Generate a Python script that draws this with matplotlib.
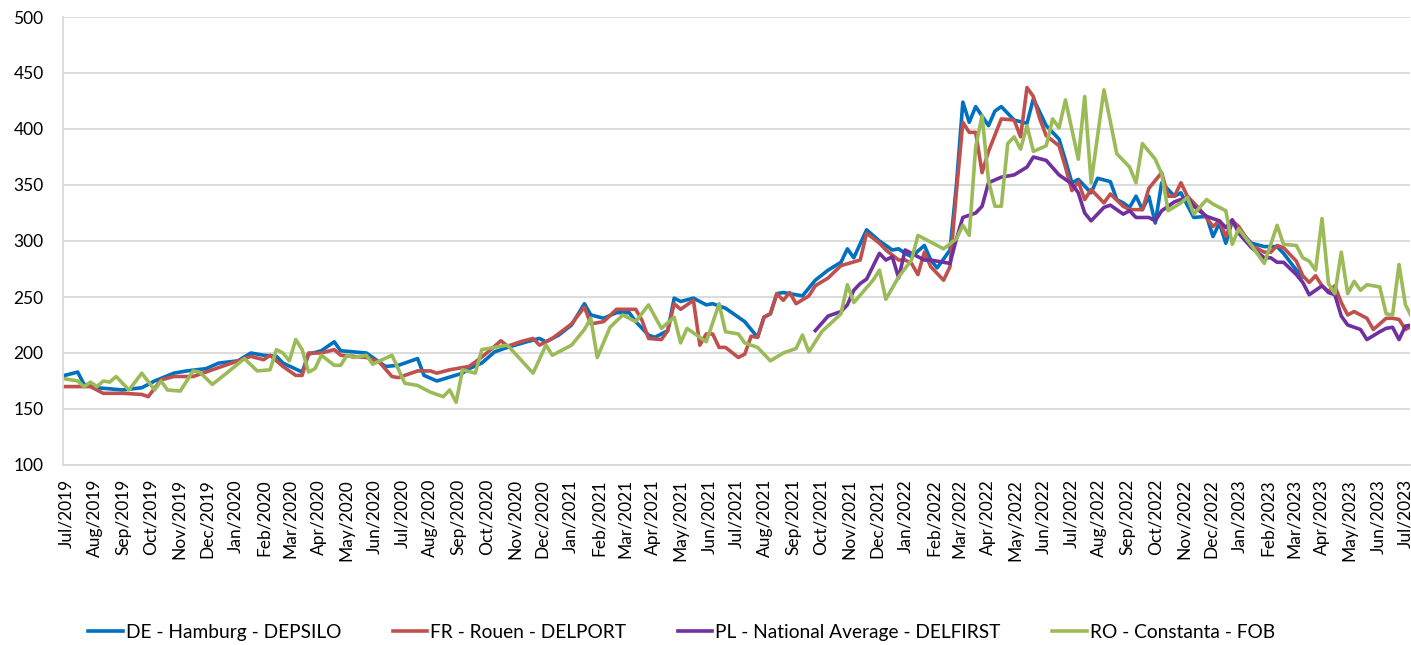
import numpy as np
import pandas as pd
import matplotlib
matplotlib.use("Agg")
import matplotlib.pyplot as plt
import matplotlib.dates as mdates

plt.rcParams['font.family'] = ['Lato', 'DejaVu Sans']

# weekly prices, week index counted from 29 Jun 2019
start = pd.Timestamp('2019-06-29')

de_week = [0, 2, 3, 5, 9, 12, 14, 17, 19, 22, 24, 27, 29, 31, 33, 34, 37, 38, 40, 42,
           43, 45, 47, 48, 50, 52, 55, 56, 58, 62, 63, 65, 67, 69, 72, 74, 75, 77, 79, 81,
           82, 84, 86, 88, 89, 91, 92, 94, 95, 96, 98, 100, 101, 103, 106, 108, 109, 110, 111, 112,
           113, 115, 117, 119, 121, 122, 123, 125, 127, 129, 130, 131, 132, 134, 135, 136, 138, 139, 140, 141,
           142, 144, 145, 146, 148, 150, 151, 153, 155, 156, 157, 158, 160, 161, 163, 164, 165, 166, 167, 168,
           169, 170, 171, 173, 174, 176, 178, 179, 180, 181, 182, 183, 185, 187, 189, 190, 192, 193]
de_val = [180, 183, 172, 169, 167, 169, 175, 182, 184, 186, 191, 193, 200, 198, 197, 191, 183, 199, 202, 210,
          202, 201, 200, 196, 188, 189, 195, 180, 175, 182, 186, 191, 201, 205, 210, 213, 210, 216, 225, 244,
          234, 231, 236, 236, 228, 216, 214, 220, 249, 246, 249, 243, 244, 240, 228, 214, 232, 235, 253, 254,
          253, 251, 265, 274, 281, 293, 285, 310, 300, 292, 293, 289, 286, 296, 283, 276, 292, 350, 424, 406,
          420, 403, 416, 420, 408, 405, 427, 403, 391, 372, 352, 355, 343, 356, 353, 337, 334, 330, 340, 328,
          340, 316, 352, 340, 343, 321, 322, 304, 316, 298, 318, 310, 298, 295, 295, 289, 274, 268]

fr_week = [0, 4, 6, 9, 12, 13, 15, 17, 20, 22, 25, 29, 31, 32, 34, 36, 37, 38, 40, 42,
           43, 45, 47, 49, 51, 52, 55, 57, 58, 60, 63, 64, 66, 68, 69, 71, 73, 74, 76, 79,
           81, 82, 84, 86, 89, 90, 91, 93, 94, 95, 96, 98, 99, 100, 101, 102, 103, 105, 106, 107,
           108, 109, 110, 111, 112, 113, 114, 116, 117, 119, 121, 124, 125, 127, 128, 130, 131, 132, 133, 134,
           135, 137, 138, 139, 140, 141, 142, 143, 144, 146, 148, 149, 150, 151, 152, 153, 155, 156, 157, 158,
           159, 160, 162, 163, 165, 166, 168, 169, 171, 172, 173, 174, 175, 177, 179, 180, 181, 182, 183, 185,
           187, 188, 189, 190, 192, 193, 194, 195, 196, 197, 198, 199, 200, 201, 203, 204, 206, 207, 208, 209, 210]
fr_val = [170, 170, 164, 164, 163, 161, 176, 179, 179, 183, 189, 197, 194, 198, 188, 180, 180, 200, 200, 203,
          198, 197, 196, 192, 179, 178, 184, 184, 182, 185, 188, 192, 201, 211, 206, 210, 213, 207, 213, 226,
          241, 226, 228, 239, 239, 229, 213, 212, 220, 244, 239, 247, 207, 217, 217, 205, 205, 196, 199, 215,
          214, 232, 235, 253, 247, 254, 244, 251, 260, 267, 278, 283, 307, 298, 292, 283, 283, 280, 270, 290,
          277, 265, 277, 344, 406, 397, 397, 361, 380, 409, 408, 393, 437, 429, 409, 394, 385, 366, 345, 353,
          337, 346, 334, 342, 331, 328, 328, 347, 361, 340, 340, 352, 340, 328, 313, 318, 304, 318, 313, 296,
          290, 290, 296, 294, 282, 269, 263, 269, 260, 255, 260, 245, 234, 237, 231, 221, 231, 231, 230, 221, 224]

pl_week = [117, 119, 121, 122, 123, 124, 125, 127, 128, 129, 130, 131, 132, 134, 135, 137, 138, 139, 140, 142,
           143, 144, 146, 148, 150, 151, 153, 155, 157, 158, 159, 160, 162, 163, 165, 166, 167, 169, 170, 171,
           173, 175, 176, 178, 180, 181, 182, 183, 185, 187, 188, 189, 190, 192, 193, 194, 196, 197, 198, 199,
           200, 202, 203, 205, 206, 207, 208, 209, 210]
pl_val = [220, 233, 237, 243, 256, 262, 266, 289, 283, 286, 267, 292, 289, 283, 283, 281, 280, 302, 321, 325,
          331, 352, 357, 359, 366, 375, 372, 359, 351, 343, 325, 318, 330, 332, 324, 327, 321, 321, 318, 327,
          335, 339, 331, 322, 318, 312, 319, 307, 294, 285, 285, 281, 281, 270, 263, 252, 260, 254, 252, 233,
          225, 221, 212, 219, 222, 223, 212, 224, 225]

ro_week = [0, 2, 3, 4, 5, 6, 7, 8, 10, 12, 14, 15, 16, 18, 20, 21, 23, 25, 28, 30,
           32, 33, 34, 35, 36, 37, 38, 39, 40, 42, 43, 44, 45, 47, 48, 51, 53, 55, 57, 59,
           60, 61, 62, 64, 65, 69, 73, 75, 76, 79, 81, 82, 83, 85, 87, 89, 91, 93, 95, 96,
           97, 100, 102, 103, 105, 106, 108, 110, 112, 114, 115, 116, 118, 121, 122, 123, 126, 127, 128, 130,
           132, 133, 137, 139, 140, 141, 142, 143, 144, 145, 146, 147, 148, 149, 150, 151, 153, 154, 155, 156,
           158, 159, 160, 162, 164, 166, 167, 168, 170, 171, 172, 174, 175, 176, 178, 179, 181, 182, 183, 185,
           187, 189, 190, 192, 193, 194, 195, 196, 197, 198, 199, 200, 201, 202, 203, 205, 206, 207, 208, 209, 210]
ro_val = [177, 175, 170, 174, 170, 175, 174, 179, 167, 182, 167, 175, 167, 166, 184, 183, 172, 181, 195, 184,
          185, 203, 200, 193, 212, 203, 183, 186, 198, 189, 189, 198, 196, 198, 190, 198, 173, 171, 165, 161,
          167, 156, 185, 182, 203, 207, 182, 207, 198, 207, 221, 231, 196, 223, 234, 228, 243, 222, 232, 209,
          222, 210, 244, 219, 217, 209, 205, 193, 200, 204, 216, 201, 219, 235, 261, 245, 265, 274, 248, 268,
          283, 305, 293, 302, 314, 305, 384, 412, 354, 331, 331, 387, 393, 382, 403, 380, 385, 409, 401, 426,
          373, 429, 352, 435, 378, 366, 352, 387, 373, 360, 327, 334, 339, 324, 337, 333, 327, 297, 311, 296,
          280, 314, 297, 296, 285, 282, 274, 320, 262, 253, 290, 253, 264, 256, 261, 259, 235, 234, 279, 243, 232]

names = ['DE - Hamburg - DEPSILO', 'FR - Rouen - DELPORT',
         'PL - National Average - DELFIRST', 'RO - Constanta - FOB']
colors = ['#0070C0', '#C0504D', '#7030A0', '#9BBB59']
series = [(de_week, de_val), (fr_week, fr_val), (pl_week, pl_val), (ro_week, ro_val)]

fig = plt.figure(figsize=(14.11, 6.45), dpi=100)
ax = fig.add_axes([63 / 1411, 1 - 465 / 645, 1347 / 1411, 448 / 645])

for (wk, val), name, col in zip(series, names, colors):
    dates = start + pd.to_timedelta(np.array(wk) * 7, unit='D')
    ax.plot(dates, val, color=col, linewidth=2.6, label=name, solid_joinstyle='round')

ax.set_ylim(100, 500)
ax.set_yticks(range(100, 501, 50))
ax.set_xlim(pd.Timestamp('2019-06-27'), pd.Timestamp('2023-07-06'))
ax.xaxis.set_major_locator(mdates.MonthLocator())
ax.xaxis.set_major_formatter(mdates.DateFormatter('%b/%Y'))
plt.setp(ax.get_xticklabels(), rotation=90)

ax.grid(axis='y', color='#D9D9D9', linewidth=1.3)
ax.set_axisbelow(True)
for s in ['top', 'right']:
    ax.spines[s].set_visible(False)
for s in ['left', 'bottom']:
    ax.spines[s].set_color('#D9D9D9')
    ax.spines[s].set_linewidth(1.3)
ax.tick_params(axis='both', length=0, labelsize=12.5, colors='#000000')
ax.tick_params(axis='y', pad=14)
ax.tick_params(axis='x', pad=10)

fig.legend(loc='center', bbox_to_anchor=(0.483, 0.02), ncol=4, frameon=False,
           fontsize=13.8, handlelength=1.8, columnspacing=2.7, handletextpad=0.15)

fig.savefig('out.png', dpi=100)
